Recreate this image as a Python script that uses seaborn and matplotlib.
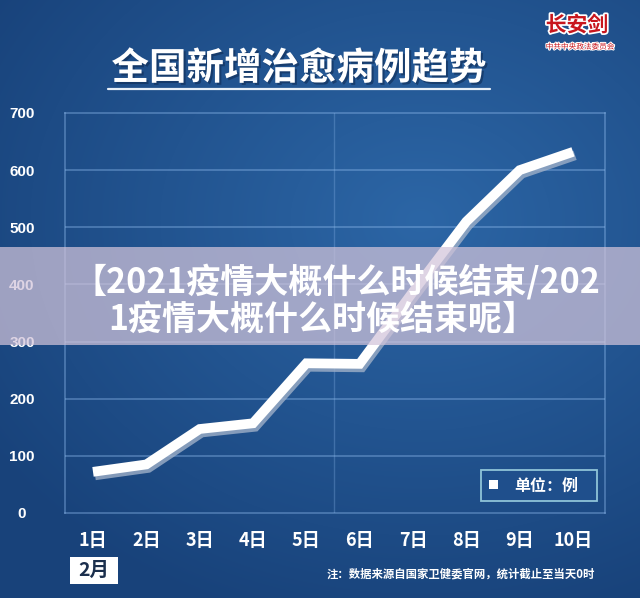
import numpy as np
import pandas as pd
import matplotlib
matplotlib.use("Agg")
import matplotlib.pyplot as plt
import matplotlib.patheffects as pe
from matplotlib.patches import Rectangle
import seaborn as sns

# ---- data ----
days = [1, 2, 3, 4, 5, 6, 7, 8, 9, 10]
day_labels = ["1日", "2日", "3日", "4日", "5日", "6日", "7日", "8日", "9日", "10日"]
cured = [72, 85, 147, 157, 262, 261, 387, 510, 600, 632]
y_ticks = [0, 100, 200, 300, 400, 500, 600, 700]

title = "全国新增治愈病例趋势"
month_label = "2月"
unit_label = "单位：例"
note = "注：数据来源自国家卫健委官网，统计截止至当天0时"
banner_1 = "【2021疫情大概什么时候结束/202"
banner_2 = "1疫情大概什么时候结束呢】"

df = pd.DataFrame({"day": days, "cured": cured})

sns.set_theme(style="white")
plt.rcParams['font.family'] = ['Noto Sans CJK SC', 'DejaVu Sans']

W, H = 640, 598
fig = plt.figure(figsize=(W / 100, H / 100), dpi=100)

# ---- background gradient ----
bg = fig.add_axes([0, 0, 1, 1], zorder=0)
yy, xx = np.mgrid[0:H, 0:W]
d = np.sqrt(((xx - 420) / 520.0) ** 2 + ((yy - 220) / 420.0) ** 2)
t = np.clip(d, 0, 1)
c_center = np.array([44, 102, 166]) / 255.0
c_edge = np.array([24, 66, 122]) / 255.0
img = c_center[None, None, :] * (1 - t[..., None]) + c_edge[None, None, :] * t[..., None]
bg.imshow(img, extent=[0, W, H, 0], aspect='auto')
bg.set_xlim(0, W)
bg.set_ylim(H, 0)
bg.axis('off')

# ---- main axes ----
ax = fig.add_axes([65 / W, 1 - 513 / H, 540 / W, 400 / H], zorder=2)
ax.patch.set_alpha(0)
shadow = [pe.SimpleLineShadow(offset=(1.5, -2.5), shadow_color='#9fb0c8', alpha=0.8),
          pe.Normal()]
sns.lineplot(data=df, x="day", y="cured", ax=ax, color="white", linewidth=7,
             solid_joinstyle='miter', solid_capstyle='butt', path_effects=shadow,
             zorder=3)
ax.set_xlim(0.475, 10.6)
ax.set_ylim(0, 700)
ax.set_yticks(y_ticks)
ax.set_yticklabels([str(v) for v in y_ticks], color='white', fontsize=11,
                   fontweight='bold', family=['Liberation Sans', 'DejaVu Sans'],
                   ha='center')
ax.tick_params(axis='y', length=0, pad=31)
ax.set_xticks(days)
ax.set_xticklabels(day_labels, color='white', fontsize=13, fontweight='bold')
ax.tick_params(axis='x', length=0, pad=13)
ax.set_xlabel("")
ax.set_ylabel("")
grid_c = (0.55, 0.72, 0.92, 0.45)
ax.grid(False)
for v in y_ticks[1:-1]:
    ax.axhline(v, color=grid_c, linewidth=1.2, zorder=1)
ax.axvline(5.52, color=(0.55, 0.72, 0.92, 0.3), linewidth=1, zorder=1)
for s in ax.spines.values():
    s.set_color((0.55, 0.72, 0.92, 0.45))
    s.set_linewidth(1.2)

# ---- overlay axes (pixel coordinates) ----
ov = fig.add_axes([0, 0, 1, 1], zorder=5)
ov.set_xlim(0, W)
ov.set_ylim(H, 0)
ov.axis('off')
ov.patch.set_alpha(0)

# legend box
ov.add_patch(Rectangle((481, 470), 116, 31, facecolor='#1f4f8c',
                       edgecolor='#8fc4d8', linewidth=1.3))
ov.add_patch(Rectangle((489, 480), 9, 9, facecolor='white', edgecolor='none'))
ov.text(514, 485.5, unit_label, color='white', fontsize=11.5, fontweight='bold',
        va='center', ha='left')

# title
ov.text(299, 68, title, color='white', fontsize=27, fontweight='bold',
        ha='center', va='center',
        path_effects=[pe.withSimplePatchShadow(offset=(1.5, -1.5),
                                               shadow_rgbFace='#0f2c55', alpha=0.6)])
ov.plot([108, 490], [88.5, 88.5], color='#e8f0f8', linewidth=1.6)

# logo
ov.text(577, 25, "长安剑", color='#c8161d', fontsize=15, fontweight='bold',
        ha='center', va='center',
        path_effects=[pe.withStroke(linewidth=2.5, foreground='white')])
ov.text(580, 47, "中共中央政法委员会", color='#c8161d', fontsize=5.5,
        ha='center', va='center',
        path_effects=[pe.withStroke(linewidth=1.5, foreground='white')])

# month box and note
ov.add_patch(Rectangle((70, 557), 48, 27, facecolor='white', edgecolor='none'))
ov.text(94, 570.5, month_label, color='#1b2f4d', fontsize=14, fontweight='bold',
        ha='center', va='center')
ov.text(595, 574, note, color='white', fontsize=8.2, fontweight='bold',
        ha='right', va='center')

# banner overlay
ov.add_patch(Rectangle((0, 247), W, 98, facecolor='#d2c4da', edgecolor='none',
                       alpha=0.72, zorder=6))
ov.text(336, 282, banner_1, color='white', fontsize=24.5, fontweight='heavy',
        ha='center', va='center', zorder=7)
ov.text(322, 319, banner_2, color='white', fontsize=24.5, fontweight='heavy',
        ha='center', va='center', zorder=7)

fig.savefig("out.png", dpi=100)
